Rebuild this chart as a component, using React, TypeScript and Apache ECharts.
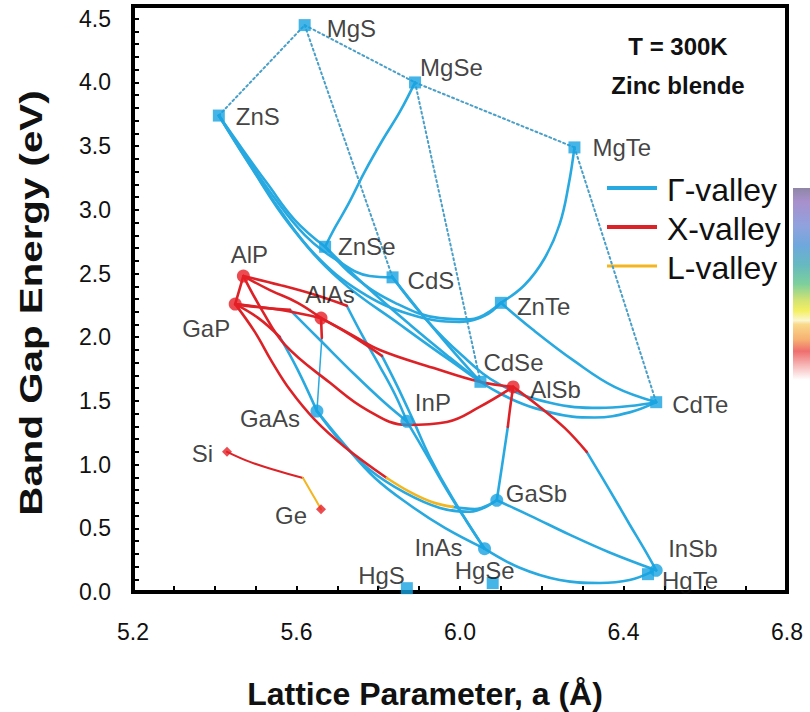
import React, { useEffect, useRef } from "react";
import * as echarts from "echarts";

type Pt = [number, number];

const FONT = '"Liberation Sans", Arial, Helvetica, sans-serif';

// ---- Binary compounds: lattice constant (Å) and band gap (eV) ----
// II–VI (square markers)
const iiviNames = ["MgS", "MgSe", "MgTe", "ZnS", "ZnSe", "ZnTe", "CdS", "CdSe", "CdTe", "HgS", "HgSe", "HgTe"];
const iiviLattice = [5.62, 5.89, 6.28, 5.41, 5.67, 6.1, 5.835, 6.05, 6.48, 5.87, 6.08, 6.46];
const iiviGap = [4.45, 4.0, 3.49, 3.74, 2.71, 2.27, 2.47, 1.65, 1.49, 0.03, 0.07, 0.14];

// III–V direct gap (blue circles)
const directNames = ["GaAs", "InP", "GaSb", "InAs", "InSb"];
const directLattice = [5.65, 5.87, 6.09, 6.06, 6.48];
const directGap = [1.42, 1.34, 0.72, 0.34, 0.17];

// III–V indirect gap (red circles)
const indirectNames = ["AlP", "GaP", "AlAs", "AlSb"];
const indirectLattice = [5.47, 5.45, 5.66, 6.13];
const indirectGap = [2.48, 2.26, 2.15, 1.61];

// Group IV (red diamonds)
const groupIVNames = ["Si", "Ge"];
const groupIVLattice = [5.43, 5.66];
const groupIVGap = [1.1, 0.65];

// ---- Ternary alloy curves, Γ-valley ----
const mgseZnse: Pt[] = [[5.89, 4.0], [5.853, 3.77], [5.811, 3.55], [5.767, 3.3], [5.726, 3.04], [5.694, 2.86], [5.67, 2.71]];
const mgteZnte: Pt[] = [[6.28, 3.49], [6.266, 3.2], [6.244, 2.89], [6.207, 2.62], [6.158, 2.41], [6.1, 2.27]];
const znsZnse: Pt[] = [[5.41, 3.74], [5.469, 3.47], [5.53, 3.2], [5.596, 2.92], [5.67, 2.71]];
const znsCds: Pt[] = [[5.41, 3.74], [5.474, 3.43], [5.54, 3.12], [5.621, 2.8], [5.706, 2.59], [5.779, 2.48], [5.835, 2.47]];
const znsZnte: Pt[] = [[5.41, 3.74], [5.479, 3.39], [5.555, 3.02], [5.645, 2.65], [5.755, 2.36], [5.877, 2.18], [5.999, 2.12], [6.061, 2.17], [6.1, 2.27]];
const znseZnte: Pt[] = [[5.67, 2.71], [5.743, 2.47], [5.841, 2.27], [5.951, 2.15], [6.024, 2.14], [6.1, 2.27]];
const znseCdse: Pt[] = [[5.67, 2.71], [5.767, 2.41], [5.877, 2.1], [5.975, 1.84], [6.05, 1.65]];
const znsCdte: Pt[] = [[5.41, 3.74], [5.486, 3.35], [5.584, 2.88], [5.706, 2.45], [5.853, 2.1], [5.975, 1.82], [6.097, 1.56], [6.22, 1.41], [6.33, 1.37], [6.415, 1.41], [6.48, 1.49]];
const cdsCdse: Pt[] = [[5.835, 2.47], [5.902, 2.2], [5.975, 1.92], [6.05, 1.65]];
const cdsCdte: Pt[] = [[5.835, 2.47], [5.914, 2.15], [6.004, 1.86], [6.097, 1.63], [6.22, 1.485], [6.342, 1.445], [6.415, 1.46], [6.48, 1.49]];
const znteCdte: Pt[] = [[6.1, 2.27], [6.178, 2.06], [6.281, 1.81], [6.378, 1.61], [6.48, 1.49]];
const gaasInas: Pt[] = [[5.65, 1.42], [5.718, 1.155], [5.792, 0.895], [5.877, 0.683], [5.963, 0.503], [6.06, 0.34]];
const gaasGasb: Pt[] = [[5.65, 1.42], [5.706, 1.19], [5.779, 0.96], [5.865, 0.78], [5.951, 0.66], [6.024, 0.63], [6.09, 0.72]];
const inpInas: Pt[] = [[5.87, 1.34], [5.914, 1.1], [5.968, 0.8], [6.017, 0.55], [6.06, 0.34]];
const alasInasG: Pt[] = [[5.809, 1.854], [5.845, 1.626], [5.885, 1.351], [5.926, 1.06], [5.98, 0.746], [6.06, 0.34]];
const alpInpG: Pt[] = [[5.723, 2.247], [5.76, 2.02], [5.804, 1.77], [5.841, 1.55], [5.87, 1.34]];
const gapInpG: Pt[] = [[5.584, 2.215], [5.657, 1.98], [5.743, 1.705], [5.816, 1.485], [5.87, 1.34]];
const gapGaasG: Pt[] = [[5.559, 2.003], [5.603, 1.744], [5.65, 1.42]];
const inasInsb: Pt[] = [[6.06, 0.34], [6.146, 0.19], [6.244, 0.094], [6.342, 0.071], [6.415, 0.094], [6.47, 0.16]];
const gasbInsb: Pt[] = [[6.09, 0.72], [6.171, 0.6], [6.268, 0.45], [6.366, 0.31], [6.48, 0.17]];
const alsbInsbG: Pt[] = [[6.31, 1.1], [6.366, 0.8], [6.415, 0.53], [6.452, 0.33], [6.48, 0.17]];
const alsbGasbG: Pt[] = [[6.117, 1.296], [6.105, 1.037], [6.09, 0.72]];
const gapGasbG: Pt[] = [[5.982, 0.668], [6.036, 0.652], [6.09, 0.72]];
const alasGaasG: Pt[] = [[5.662, 1.995], [5.65, 1.42]];

// ---- X-valley ----
const alpGap: Pt[] = [[5.47, 2.48], [5.45, 2.26]];
const alpAlas: Pt[] = [[5.47, 2.48], [5.535, 2.37], [5.603, 2.27], [5.66, 2.15]];
const gapAlas: Pt[] = [[5.45, 2.26], [5.559, 2.215], [5.66, 2.15]];
const alpInpX: Pt[] = [[5.47, 2.48], [5.559, 2.41], [5.645, 2.333], [5.723, 2.247]];
const gapInpX: Pt[] = [[5.45, 2.26], [5.52, 2.23], [5.584, 2.215]];
const alasAlsb: Pt[] = [[5.66, 2.15], [5.731, 2.027], [5.804, 1.9], [5.934, 1.76], [6.048, 1.65], [6.13, 1.61]];
const alasInasX: Pt[] = [[5.66, 2.15], [5.731, 2.02], [5.809, 1.854]];
const alpAlsb: Pt[] = [[5.47, 2.48], [5.515, 2.215], [5.572, 1.94], [5.682, 1.642], [5.772, 1.43], [5.87, 1.312], [5.968, 1.335], [6.048, 1.453], [6.13, 1.61]];
const gapGaasX: Pt[] = [[5.45, 2.26], [5.506, 2.152], [5.559, 2.003]];
const gapGasbX: Pt[] = [[5.45, 2.26], [5.498, 2.042], [5.54, 1.807], [5.584, 1.587], [5.645, 1.351], [5.718, 1.139], [5.821, 0.895]];
const alsbGasbX: Pt[] = [[6.13, 1.61], [6.122, 1.43], [6.117, 1.296]];
const alsbInsbX: Pt[] = [[6.13, 1.61], [6.195, 1.453], [6.256, 1.288], [6.31, 1.1]];
const alasGaasX: Pt[] = [[5.66, 2.15], [5.662, 1.995]];
const siGeX: Pt[] = [[5.43, 1.1], [5.486, 1.021], [5.547, 0.958], [5.616, 0.895]];

// ---- L-valley ----
const gapGasbL: Pt[] = [[5.821, 0.895], [5.877, 0.786], [5.931, 0.707], [5.982, 0.668]];
const siGeL: Pt[] = [[5.616, 0.895], [5.64, 0.762], [5.66, 0.65]];

// ---- Lattice-only tie lines between Mg compounds and their partners ----
const tieLines: Pt[][] = [
  [[5.41, 3.74], [5.62, 4.45]],
  [[5.62, 4.45], [5.89, 4.0]],
  [[5.89, 4.0], [6.28, 3.49]],
  [[5.62, 4.45], [5.835, 2.47]],
  [[5.89, 4.0], [6.05, 1.65]],
  [[6.28, 3.49], [6.48, 1.49]],
];

const gammaCurves: Pt[][] = [
  mgseZnse, mgteZnte, znsZnse, znsCds, znsZnte, znseZnte, znseCdse, znsCdte, cdsCdse, cdsCdte, znteCdte,
  gaasInas, gaasGasb, inpInas, alasInasG, alpInpG, gapInpG, gapGaasG, inasInsb, gasbInsb, alsbInsbG,
  alsbGasbG, gapGasbG,
];
const xCurves: Pt[][] = [
  alpGap, alpAlas, gapAlas, alpInpX, gapInpX, alasAlsb, alasInasX, alpAlsb, gapGaasX, gapGasbX,
  alsbGasbX, alsbInsbX, alasGaasX,
];
const lCurves: Pt[][] = [gapGasbL];

const legendLabels = ["Γ-valley", "X-valley", "L-valley"];

const GAMMA = "#28a9e0";
const XRED = "#dd2227";
const LYEL = "#f3b520";
const DOT = "#4a9fc8";
const BLUE_MARK = "#17a2e1";
const RED_MARK = "#e61e25";

// label anchor: [align, dx, dy] relative to the marker centre
const labelPlace: Record<string, [string, number, number]> = {
  MgS: ["left", 22, 3],
  MgSe: ["left", 5, -15],
  ZnS: ["left", 17, 1],
  MgTe: ["left", 18, 0],
  ZnSe: ["left", 13, 0],
  CdS: ["left", 15, 3],
  ZnTe: ["left", 16, 4],
  CdSe: ["left", 3, -19],
  AlSb: ["left", 17, 3],
  CdTe: ["left", 16, 2],
  AlP: ["center", 6, -22],
  GaP: ["right", -5, 24],
  AlAs: ["center", 9, -24],
  GaAs: ["right", -17, 7],
  InP: ["left", 8, -19],
  Si: ["right", -14, 2],
  Ge: ["right", -14, 6],
  GaSb: ["left", 9, -7],
  InAs: ["right", -22, -1],
  InSb: ["left", 12, -22],
  HgTe: ["left", 14, 6],
  HgS: ["right", -2, -13],
  HgSe: ["center", -8, -13],
};

function points(names: string[], lat: number[], gap: number[]) {
  return names.map((n, i) => {
    const [align, dx, dy] = labelPlace[n];
    return {
      name: n,
      value: [lat[i], gap[i]],
      label: {
        show: true,
        position: "inside",
        align,
        verticalAlign: "middle",
        offset: [dx, dy],
        formatter: "{b}",
        color: "#111",
        fontSize: 24,
        fontFamily: FONT,
      },
    };
  });
}

function curve(data: Pt[], color: string, width: number, dash?: number[]) {
  return {
    type: "line",
    data,
    smooth: 0.4,
    showSymbol: false,
    symbol: "none",
    silent: true,
    z: 2,
    lineStyle: { color, width, type: dash ? dash : "solid", cap: "round" },
  };
}

function centeredText(text: string, x: number, y: number, size: number, bold: boolean, extra: any = {}) {
  return {
    type: "text",
    x,
    y,
    ...extra,
    style: {
      text,
      fontSize: size,
      fontWeight: bold ? "bold" : "normal",
      fontFamily: FONT,
      fill: "#111",
      align: "center",
      verticalAlign: "middle",
      textAlign: "center",
      textVerticalAlign: "middle",
    },
  };
}

export default function App() {
  const ref = useRef<HTMLDivElement>(null);

  useEffect(() => {
    const chart = echarts.init(ref.current!, null, { renderer: "svg" });

    const series: any[] = [];
    tieLines.forEach((d) => series.push({ ...curve(d, DOT, 2, [2, 3]), smooth: false, z: 1 }));
    gammaCurves.forEach((d) => series.push(curve(d, GAMMA, 2.6)));
    series.push(curve(alasGaasG, GAMMA, 1.5));
    xCurves.forEach((d) => series.push(curve(d, XRED, 2.6)));
    series.push(curve(siGeX, XRED, 2));
    lCurves.forEach((d) => series.push(curve(d, LYEL, 2.6)));
    series.push(curve(siGeL, LYEL, 2));

    series.push({
      type: "scatter",
      symbol: "rect",
      symbolSize: 12,
      z: 5,
      itemStyle: { color: BLUE_MARK },
      data: points(iiviNames, iiviLattice, iiviGap),
    });
    series.push({
      type: "scatter",
      symbol: "circle",
      symbolSize: 13,
      z: 5,
      itemStyle: { color: BLUE_MARK },
      data: points(directNames, directLattice, directGap),
    });
    series.push({
      type: "scatter",
      symbol: "circle",
      symbolSize: 13,
      z: 5,
      itemStyle: { color: RED_MARK },
      data: points(indirectNames, indirectLattice, indirectGap),
    });
    series.push({
      type: "scatter",
      symbol: "diamond",
      symbolSize: 10,
      z: 5,
      itemStyle: { color: RED_MARK },
      data: points(groupIVNames, groupIVLattice, groupIVGap),
    });

    const legendColors = [GAMMA, XRED, LYEL];
    const legendY = [188, 227, 266];
    const legendGraphics: any[] = [];
    legendLabels.forEach((t, i) => {
      legendGraphics.push({
        type: "line",
        shape: { x1: 607, y1: legendY[i], x2: 657, y2: legendY[i] },
        style: { stroke: legendColors[i], lineWidth: i === 2 ? 3 : 4 },
      });
      legendGraphics.push({
        type: "text",
        x: 667,
        y: legendY[i] + 2,
        style: {
          text: t,
          fontSize: 32,
          fontFamily: FONT,
          fill: "#111",
          align: "left",
          verticalAlign: "middle",
          textAlign: "left",
          textVerticalAlign: "middle",
        },
      });
    });

    const option: any = {
      animation: false,
      backgroundColor: "#fff",
      grid: {
        left: 133,
        right: 23,
        top: 6,
        bottom: 120,
        show: true,
        borderColor: "#000",
        borderWidth: 4,
      },
      xAxis: {
        type: "value",
        min: 5.2,
        max: 6.8,
        interval: 0.1,
        axisLine: { show: true, lineStyle: { color: "#000", width: 4 } },
        axisTick: { show: true, inside: true, length: 6, lineStyle: { color: "#000", width: 2 } },
        splitLine: { show: false },
        axisLabel: {
          interval: 0,
          margin: 28,
          fontSize: 23,
          fontFamily: FONT,
          color: "#111",
          formatter: (v: number) => {
            const r = Math.round(v * 10);
            return (r - 52) % 4 === 0 ? (r / 10).toFixed(1) : "";
          },
        },
      },
      yAxis: {
        type: "value",
        min: 0,
        max: 4.6,
        interval: 0.1,
        axisLine: { show: true, lineStyle: { color: "#000", width: 4 } },
        axisTick: { show: true, inside: true, length: 6, lineStyle: { color: "#000", width: 2 } },
        splitLine: { show: false },
        axisLabel: {
          interval: 0,
          margin: 22,
          fontSize: 23,
          fontFamily: FONT,
          color: "#111",
          formatter: (v: number) => {
            const r = Math.round(v * 10);
            return r % 5 === 0 ? (r / 10).toFixed(1) : "";
          },
        },
      },
      graphic: [
        centeredText("Lattice Parameter, a (Å)", 425, 694, 32, true),
        centeredText("Band Gap Energy (eV)", 31, 303, 31, true, { rotation: Math.PI / 2, scaleX: 1.3 }),
        centeredText("T = 300K", 678, 46, 24, true),
        centeredText("Zinc blende", 678, 85, 24, true),
        ...legendGraphics,
        {
          type: "rect",
          shape: { x: 793, y: 188, width: 17, height: 192 },
          style: {
            fill: new echarts.graphic.LinearGradient(0, 0, 0, 1, [
              { offset: 0, color: "#8e86a6" },
              { offset: 0.07, color: "#a890cc" },
              { offset: 0.2, color: "#8fa2de" },
              { offset: 0.3, color: "#6ea8dc" },
              { offset: 0.4, color: "#66b9c0" },
              { offset: 0.5, color: "#7dcf9c" },
              { offset: 0.58, color: "#cfe274" },
              { offset: 0.64, color: "#f4ef62" },
              { offset: 0.69, color: "#faf6d0" },
              { offset: 0.71, color: "#f9d98a" },
              { offset: 0.79, color: "#f6b072" },
              { offset: 0.85, color: "#ef6e6e" },
              { offset: 0.92, color: "#f7b3b3" },
              { offset: 1, color: "#ffffff" },
            ]),
          },
        },
      ],
      series,
    };

    chart.setOption(option);
    return () => chart.dispose();
  }, []);

  return (
    <div
      ref={ref}
      style={{ position: "absolute", left: 0, top: 0, width: 810, height: 712, background: "#fff" }}
    />
  );
}
